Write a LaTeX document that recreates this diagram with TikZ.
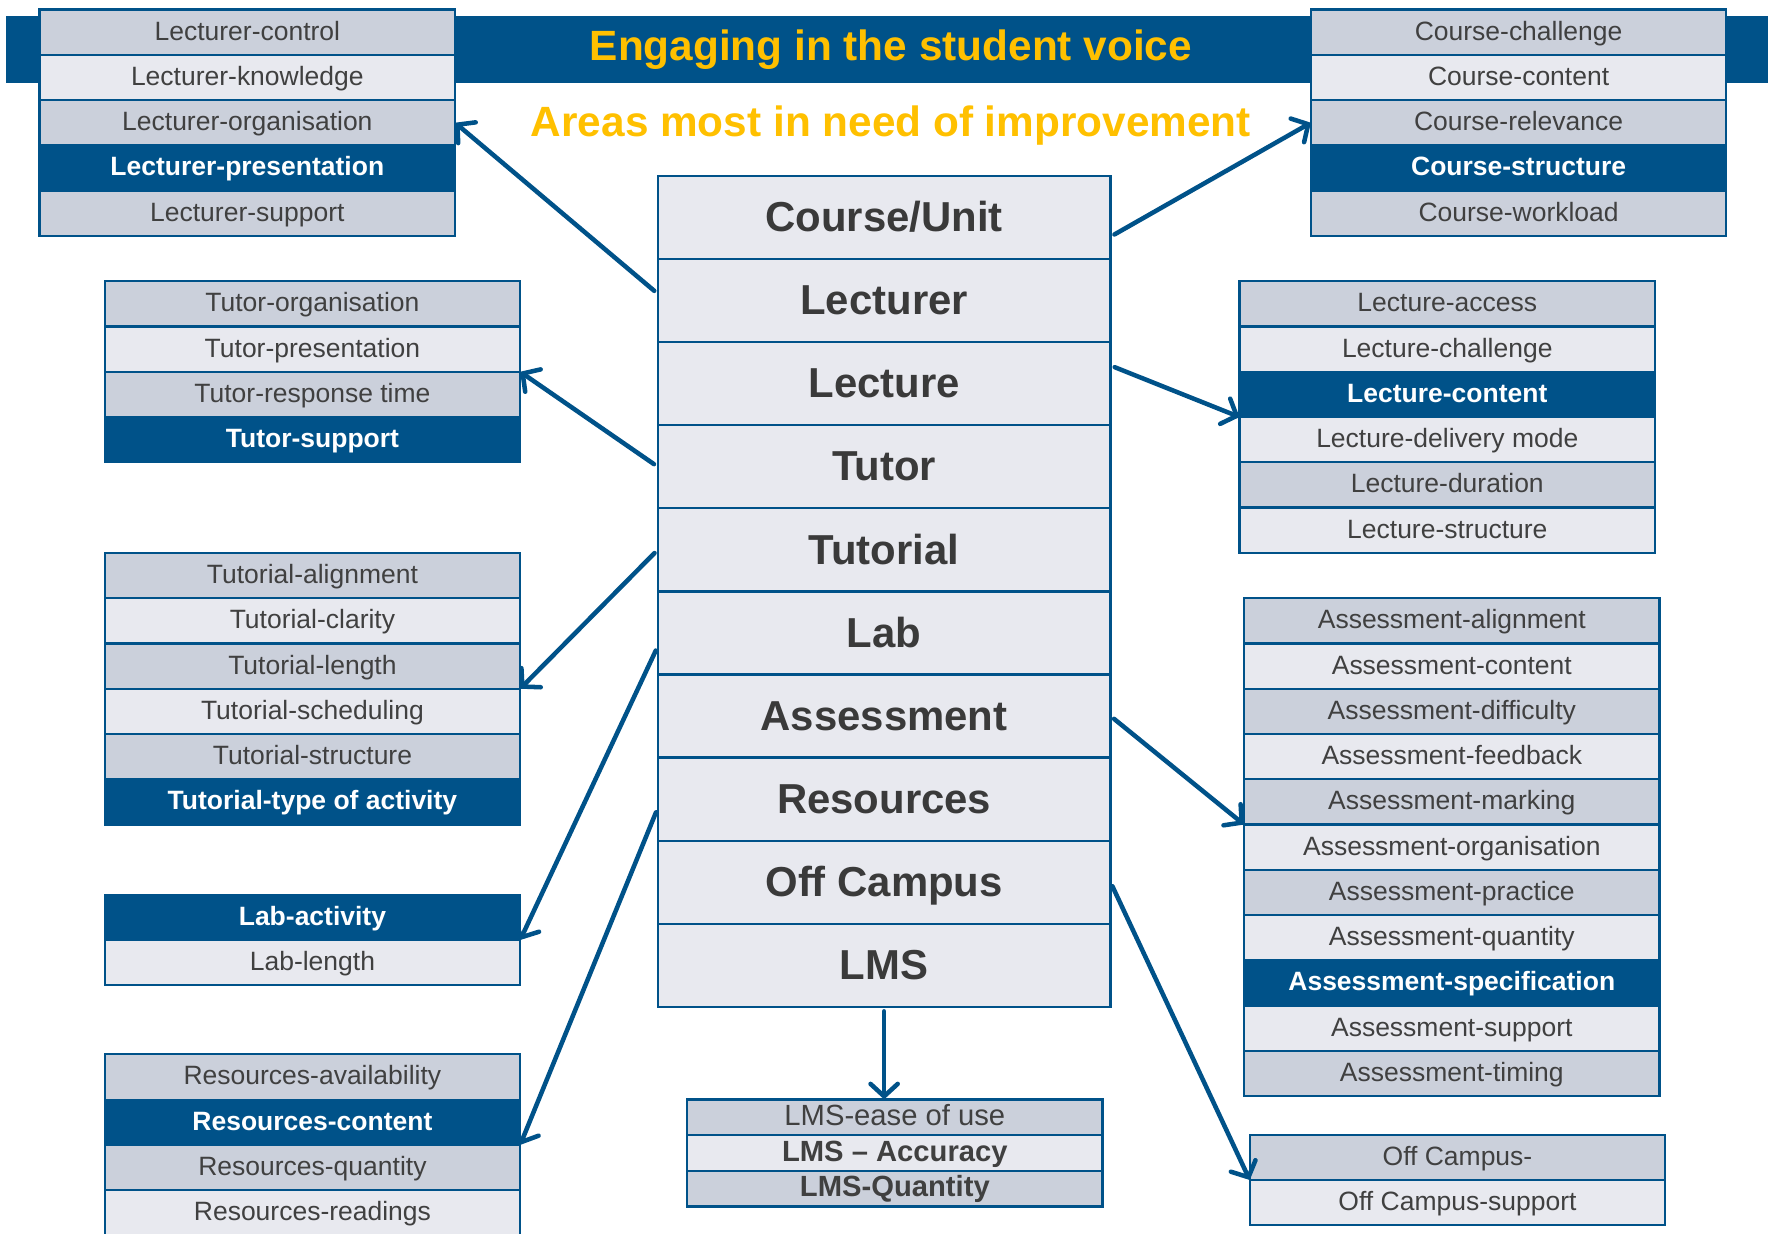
\documentclass[tikz,border=0pt]{standalone}
\usepackage{fontspec}
\setmainfont{Liberation Sans}
\usepackage{xcolor}
\usepackage{tikz}
\usetikzlibrary{matrix}
\usetikzlibrary{positioning}
\usetikzlibrary{arrows.meta}
\definecolor{voiceblue}{HTML}{005289}
\definecolor{rowdark}{HTML}{CBD0DB}
\definecolor{rowlight}{HTML}{E8E9EF}
\definecolor{textgray}{HTML}{404040}
\definecolor{titleyellow}{HTML}{FFC000}
\tikzset{cell/.style ={draw=voiceblue, line width=1pt, minimum width=183.5pt, minimum height=20pt, inner sep=0pt, outer sep=0pt, text height=8.5pt, text depth=1.5pt, text=textgray, font=\fontsize{11.7}{14}\selectfont}}
\tikzset{dk/.style ={cell, fill=rowdark}}
\tikzset{lt/.style ={cell, fill=rowlight}}
\tikzset{hl/.style ={cell, fill=voiceblue, text=white, font=\fontsize{11.7}{14}\selectfont\bfseries}}
\tikzset{lmsrow/.style ={cell, minimum height=15.75pt, text height=9.4pt, text depth=2.2pt, font=\fontsize{12.9}{14}\selectfont}}
\tikzset{area/.style ={draw=voiceblue, line width=1pt, fill=rowlight, minimum width=200pt, minimum height=36.7pt, inner sep=0pt, outer sep=0pt, text height=14.5pt, text depth=1.9pt, text=textgray!90!black, font=\fontsize{18.5}{20}\selectfont\bfseries}}
\tikzset{stack/.style ={row sep=-1pt, inner sep=0pt, anchor=north}}
\tikzset{heading/.style ={text=titleyellow, anchor=base, font=\fontsize{18.7}{20}\selectfont\bfseries}}
\tikzset{pointer/.style ={draw=voiceblue, line width=2pt, line cap=round, shorten <=2pt, -{Straight Barb[length=5.5pt, width=12pt, line cap=round]}}}

\begin{document}
\begin{tikzpicture}[x=0.5pt, y=-0.5pt]
\useasboundingbox (0,0) rectangle (1568,1090);
% banner and headings
\node[fill=voiceblue, minimum width=778.5pt, minimum height=29.5pt, inner sep=0pt] (banner) at (783.5,43.5) {};
\node[heading] (title) at (787,53.5) {Engaging in the student voice};
\node[heading] (subtitle) at (787,120.5) {Areas most in need of improvement};

% central column
\matrix (areas) [stack] at (781,154)
{
\node[area] (a-course) {Course/Unit}; \\
\node[area] (a-lecturer) {Lecturer}; \\
\node[area] (a-lecture) {Lecture}; \\
\node[area] (a-tutor) {Tutor}; \\
\node[area] (a-tutorial) {Tutorial}; \\
\node[area] (a-lab) {Lab}; \\
\node[area] (a-assessment) {Assessment}; \\
\node[area] (a-resources) {Resources}; \\
\node[area] (a-offcampus) {Off Campus}; \\
\node[area] (a-lms) {LMS}; \\
};

% left side
\matrix (lecturer) [stack] at (218.5,7)
{
\node[dk] (lec-control) {Lecturer-control}; \\
\node[lt] (lec-knowledge) {Lecturer-knowledge}; \\
\node[dk] (lec-organisation) {Lecturer-organisation}; \\
\node[hl] (lec-presentation) {Lecturer-presentation}; \\
\node[dk] (lec-support) {Lecturer-support}; \\
};
\matrix (tutor) [stack] at (276,247)
{
\node[dk] (tut-organisation) {Tutor-organisation}; \\
\node[lt] (tut-presentation) {Tutor-presentation}; \\
\node[dk] (tut-response) {Tutor-response time}; \\
\node[hl] (tut-support) {Tutor-support}; \\
};
\matrix (tutorial) [stack] at (276,487)
{
\node[dk] (tl-alignment) {Tutorial-alignment}; \\
\node[lt] (tl-clarity) {Tutorial-clarity}; \\
\node[dk] (tl-length) {Tutorial-length}; \\
\node[lt] (tl-scheduling) {Tutorial-scheduling}; \\
\node[dk] (tl-structure) {Tutorial-structure}; \\
\node[hl] (tl-activity) {Tutorial-type of activity}; \\
};
\matrix (lab) [stack] at (276,789)
{
\node[hl] (lab-activity) {Lab-activity}; \\
\node[lt] (lab-length) {Lab-length}; \\
};
\matrix (resources) [stack] at (276,930)
{
\node[dk] (res-availability) {Resources-availability}; \\
\node[hl] (res-content) {Resources-content}; \\
\node[dk] (res-quantity) {Resources-quantity}; \\
\node[lt] (res-readings) {Resources-readings}; \\
};

% right side
\matrix (course) [stack] at (1341.5,7)
{
\node[dk] (crs-challenge) {Course-challenge}; \\
\node[lt] (crs-content) {Course-content}; \\
\node[dk] (crs-relevance) {Course-relevance}; \\
\node[hl] (crs-structure) {Course-structure}; \\
\node[dk] (crs-workload) {Course-workload}; \\
};
\matrix (lecture) [stack] at (1278.5,247)
{
\node[dk] (lct-access) {Lecture-access}; \\
\node[lt] (lct-challenge) {Lecture-challenge}; \\
\node[hl] (lct-content) {Lecture-content}; \\
\node[lt] (lct-delivery) {Lecture-delivery mode}; \\
\node[dk] (lct-duration) {Lecture-duration}; \\
\node[lt] (lct-structure) {Lecture-structure}; \\
};
\matrix (assessment) [stack] at (1282.5,527)
{
\node[dk] (as-alignment) {Assessment-alignment}; \\
\node[lt] (as-content) {Assessment-content}; \\
\node[dk] (as-difficulty) {Assessment-difficulty}; \\
\node[lt] (as-feedback) {Assessment-feedback}; \\
\node[dk] (as-marking) {Assessment-marking}; \\
\node[lt] (as-organisation) {Assessment-organisation}; \\
\node[dk] (as-practice) {Assessment-practice}; \\
\node[lt] (as-quantity) {Assessment-quantity}; \\
\node[hl] (as-specification) {Assessment-specification}; \\
\node[lt] (as-support) {Assessment-support}; \\
\node[dk] (as-timing) {Assessment-timing}; \\
};
\matrix (offcampus) [stack] at (1287.5,1001)
{
\node[dk] (off-campus) {Off Campus-}; \\
\node[lt] (off-support) {Off Campus-support}; \\
};

% bottom
\matrix (lms) [stack, below=39.5pt of areas, xshift=4.75pt]
{
\node[lmsrow, fill=rowdark] (lms-ease) {LMS-ease of use}; \\
\node[lmsrow, fill=rowlight, font=\fontsize{12.9}{14}\selectfont\bfseries] (lms-accuracy) {LMS \textendash{} Accuracy}; \\
\node[lmsrow, fill=rowdark, font=\fontsize{12.9}{14}\selectfont\bfseries] (lms-quantity) {LMS-Quantity}; \\
};

% arrows
\draw[pointer] ([yshift=3pt]a-lecturer.west) -- (lec-organisation.east);
\draw[pointer] ([yshift=-8.5pt]a-course.east) -- (crs-relevance.west);
\draw[pointer] (a-tutor.west) -- (tut-response.north east);
\draw[pointer] ([yshift=8pt]a-lecture.east) -- (lct-content.south west);
\draw[pointer] (a-tutorial.west) -- (tl-length.south east);
\draw[pointer] ([yshift=-6pt]a-lab.west) -- (lab-activity.south east);
\draw[pointer] ([yshift=-4pt]a-resources.west) -- (res-content.south east);
\draw[pointer] (a-assessment.east) -- (as-marking.south west);
\draw[pointer] (a-offcampus.east) -- (off-campus.south west);
\draw[pointer] (a-lms.south) -- (a-lms.south |- lms-ease.north);
\end{tikzpicture}
\end{document}
